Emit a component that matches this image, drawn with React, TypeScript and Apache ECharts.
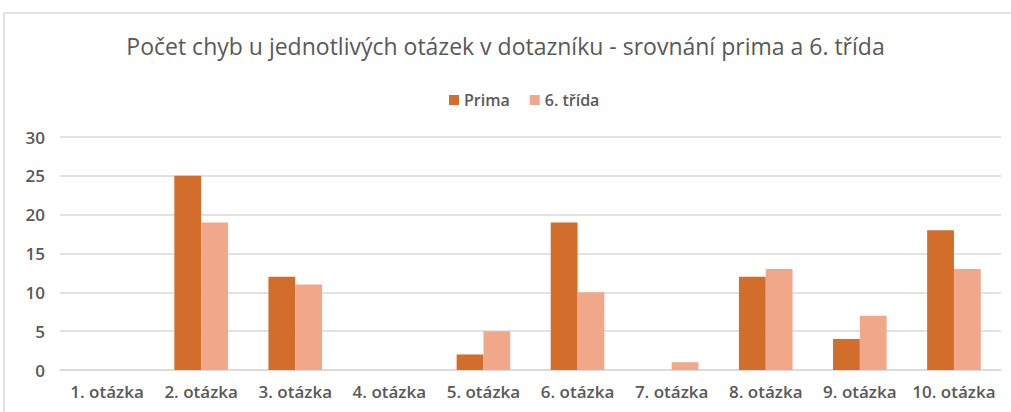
import React, { useEffect, useRef } from "react";
import * as echarts from "echarts";

const categories = ["1. otázka", "2. otázka", "3. otázka", "4. otázka", "5. otázka", "6. otázka", "7. otázka", "8. otázka", "9. otázka", "10. otázka"];
const prima = [0, 25, 12, 0, 2, 19, 0, 12, 4, 18];
const trida6 = [0, 19, 11, 0, 5, 10, 1, 13, 7, 13];
const seriesNames = ["Prima", "6. třída"];
const titleText = "Počet chyb u jednotlivých otázek v dotazníku - srovnání prima a 6. třída";

export default function App() {
  const ref = useRef<HTMLDivElement>(null);
  useEffect(() => {
    if (!ref.current) return;
    const chart = echarts.init(ref.current, null, { renderer: "svg" });
    const font = "Open Sans";
    chart.setOption({
      animation: false,
      backgroundColor: "#ffffff",
      graphic: [
        {
          type: "rect",
          shape: { x: 4, y: 13, width: 1100, height: 500 },
          style: { fill: "none", stroke: "#D9D9D9", lineWidth: 1.5 },
          silent: true,
        },
      ],
      title: {
        text: titleText,
        left: "center",
        top: 29,
        textStyle: { color: "#595959", fontSize: 23, fontWeight: 500, fontFamily: font },
      },
      legend: {
        data: seriesNames,
        top: 87,
        left: 444,
        itemWidth: 10,
        itemHeight: 10,
        itemGap: 20,
        icon: "rect",
        textStyle: { color: "#595959", fontSize: 16, fontWeight: 600, fontFamily: font },
      },
      grid: { left: 60, right: 10, top: 137, bottom: 42, containLabel: false },
      xAxis: {
        type: "category",
        data: categories,
        axisLine: { lineStyle: { color: "#D9D9D9", width: 1.5 } },
        axisTick: { show: false },
        axisLabel: { color: "#595959", fontSize: 17, fontWeight: 600, fontFamily: font, margin: 13, interval: 0 },
      },
      yAxis: {
        type: "value",
        min: 0,
        max: 30,
        interval: 5,
        axisLine: { show: false },
        axisTick: { show: false },
        splitLine: { lineStyle: { color: "#D9D9D9", width: 1.5 } },
        axisLabel: { color: "#595959", fontSize: 17, fontWeight: 600, fontFamily: font, margin: 15 },
      },
      series: [
        {
          name: seriesNames[0],
          type: "bar",
          data: prima,
          barWidth: "28.5%",
          barGap: "0%",
          itemStyle: { color: "#D26D2B" },
        },
        {
          name: seriesNames[1],
          type: "bar",
          data: trida6,
          barWidth: "28.5%",
          itemStyle: { color: "#F1A88A" },
        },
      ],
    });
    return () => chart.dispose();
  }, []);
  return <div ref={ref} style={{ position: "fixed", left: 0, top: 0, width: 1011, height: 412 }} />;
}
